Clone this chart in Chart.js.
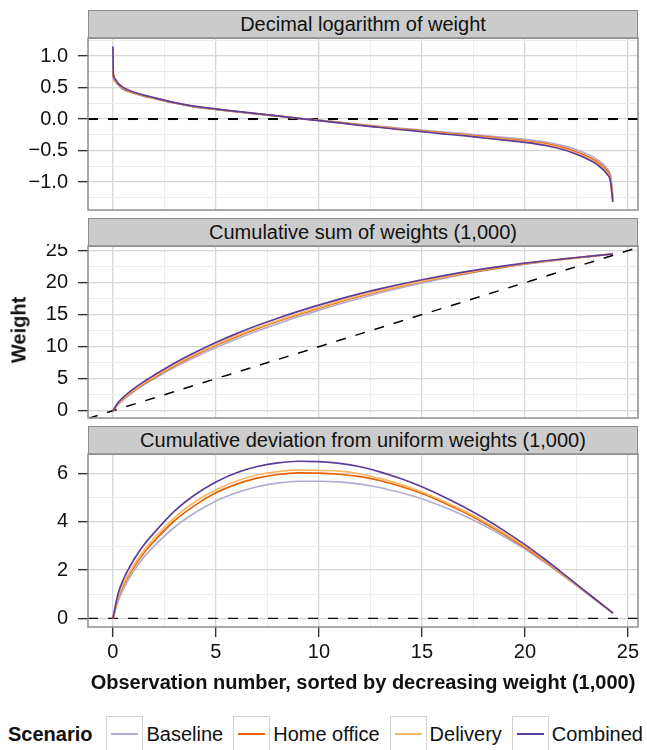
<!DOCTYPE html>
<html>
<head>
<meta charset="utf-8">
<script src="https://cdn.jsdelivr.net/npm/chart.js@4.4.1/dist/chart.umd.min.js"></script>
<style>
  html, body { margin: 0; padding: 0; background: #fff; overflow: hidden; }
  body { width: 647px; height: 750px; position: relative; font-family: "Liberation Sans", Arial, sans-serif; color: #111; }
  canvas { position: absolute; left: 0; }
  .strip { position: absolute; left: 88px; width: 550px; height: 29px; box-sizing: border-box; background: #cccccc; border: 1.5px solid #8c8c8c; font-size: 20px; line-height: 26px; text-align: center; }
  #ylab { position: absolute; left: 19px; top: 330px; transform: translate(-50%, -50%) rotate(-90deg); font-weight: bold; font-size: 20px; white-space: nowrap; }
  #legend { position: absolute; left: 8px; top: 716px; height: 37px; display: flex; align-items: center; font-size: 20px; white-space: nowrap; }
  #legend b { margin-right: 14px; }
  .key { width: 37px; height: 37px; box-sizing: border-box; border: 1.5px solid #d3d3d3; position: relative; margin-right: 3px; }
  .key i { position: absolute; left: 4px; right: 4px; top: 16px; height: 2px; }
  .lab { margin-right: 10px; }
</style>
</head>
<body>
<div class="strip" style="top:10px">Decimal logarithm of weight</div>
<div class="strip" style="top:218px">Cumulative sum of weights (1,000)</div>
<div class="strip" style="top:426px">Cumulative deviation from uniform weights (1,000)</div>
<canvas id="logChart" width="647" height="176" style="top:36px"></canvas>
<canvas id="cumChart" width="647" height="176" style="top:244px"></canvas>
<canvas id="devChart" width="647" height="248" style="top:452px"></canvas>
<div id="ylab">Weight</div>
<div id="legend"></div>
<script>
const scenarios = ["Baseline", "Home office", "Delivery", "Combined"];
const colors = ["#b2abd2", "#e66101", "#fdb863", "#5e3c99"];

// observation number (1,000) for the log panel
const obsLog = [0, 0.02, 0.1, 0.25, 0.5, 1, 1.5, 2, 3, 4, 5, 6, 7, 8, 9, 10, 11, 12, 13, 14, 15, 16, 17, 18, 19, 20, 21, 22, 22.5, 23, 23.5, 24, 24.15, 24.27];
const logBaseline = [0.74, 0.66, 0.6, 0.54, 0.47, 0.41, 0.36, 0.325, 0.25, 0.19, 0.15, 0.113, 0.08, 0.047, 0.012, -0.018, -0.05, -0.085, -0.117, -0.148, -0.176, -0.205, -0.233, -0.262, -0.292, -0.322, -0.365, -0.435, -0.49, -0.555, -0.64, -0.79, -0.89, -1.22];
const logHome = [0.78, 0.68, 0.61, 0.55, 0.48, 0.415, 0.368, 0.33, 0.254, 0.194, 0.154, 0.116, 0.082, 0.048, 0.011, -0.021, -0.054, -0.091, -0.125, -0.158, -0.187, -0.219, -0.248, -0.28, -0.313, -0.345, -0.39, -0.466, -0.523, -0.59, -0.677, -0.83, -0.93, -1.27];
const logDelivery = [0.82, 0.7, 0.625, 0.56, 0.49, 0.422, 0.373, 0.335, 0.257, 0.197, 0.157, 0.118, 0.083, 0.049, 0.01, -0.023, -0.057, -0.095, -0.13, -0.164, -0.193, -0.227, -0.256, -0.29, -0.324, -0.358, -0.405, -0.483, -0.542, -0.61, -0.698, -0.855, -0.955, -1.295];
const logCombined = [1.15, 0.72, 0.64, 0.57, 0.5, 0.43, 0.38, 0.34, 0.26, 0.2, 0.16, 0.12, 0.085, 0.05, 0.01, -0.025, -0.06, -0.1, -0.135, -0.17, -0.2, -0.235, -0.265, -0.3, -0.335, -0.37, -0.42, -0.5, -0.56, -0.63, -0.72, -0.88, -0.98, -1.32];

// observation number (1,000) for the cumulative panels
const obsCum = [0, 0.25, 0.5, 1, 1.5, 2, 3, 4, 5, 6, 7, 8, 9, 10, 11, 12, 13, 14, 15, 16, 17, 18, 19, 20, 21, 22, 23, 24, 24.27];
const cumBaseline = [0, 0.96, 1.7, 2.95, 4.04, 5.0, 6.79, 8.39, 9.87, 11.21, 12.46, 13.61, 14.69, 15.69, 16.66, 17.57, 18.42, 19.21, 19.96, 20.64, 21.28, 21.86, 22.39, 22.88, 23.3, 23.68, 24.04, 24.39, 24.49];
const cumHome = [0, 1.1, 1.86, 3.1, 4.21, 5.2, 7.06, 8.7, 10.21, 11.57, 12.82, 13.97, 15.04, 16.03, 16.98, 17.88, 18.71, 19.47, 20.18, 20.82, 21.42, 21.97, 22.48, 22.94, 23.35, 23.71, 24.06, 24.4, 24.49];
const cumDelivery = [0, 1.15, 1.92, 3.18, 4.31, 5.32, 7.19, 8.85, 10.34, 11.7, 12.95, 14.09, 15.15, 16.14, 17.11, 17.99, 18.8, 19.55, 20.24, 20.88, 21.48, 22.03, 22.53, 22.99, 23.38, 23.72, 24.06, 24.4, 24.49];
const cumCombined = [0, 1.27, 2.1, 3.41, 4.54, 5.55, 7.46, 9.14, 10.66, 12.04, 13.3, 14.45, 15.52, 16.5, 17.43, 18.29, 19.07, 19.79, 20.46, 21.07, 21.64, 22.16, 22.63, 23.06, 23.43, 23.76, 24.08, 24.4, 24.49];
const devBaseline = [0, 0.71, 1.2, 1.95, 2.54, 3.0, 3.79, 4.39, 4.87, 5.21, 5.46, 5.61, 5.69, 5.69, 5.66, 5.57, 5.42, 5.21, 4.96, 4.64, 4.28, 3.86, 3.39, 2.88, 2.3, 1.68, 1.04, 0.39, 0.22];
const devHome = [0, 0.85, 1.36, 2.1, 2.71, 3.2, 4.06, 4.7, 5.21, 5.57, 5.82, 5.97, 6.04, 6.03, 5.98, 5.88, 5.71, 5.47, 5.18, 4.82, 4.42, 3.97, 3.48, 2.94, 2.35, 1.71, 1.06, 0.4, 0.22];
const devDelivery = [0, 0.9, 1.42, 2.18, 2.81, 3.32, 4.19, 4.85, 5.34, 5.7, 5.95, 6.09, 6.15, 6.14, 6.11, 5.99, 5.8, 5.55, 5.24, 4.88, 4.48, 4.03, 3.53, 2.99, 2.38, 1.72, 1.06, 0.4, 0.22];
const devCombined = [0, 1.02, 1.6, 2.41, 3.04, 3.55, 4.46, 5.14, 5.66, 6.04, 6.3, 6.45, 6.52, 6.5, 6.43, 6.29, 6.07, 5.79, 5.46, 5.07, 4.64, 4.16, 3.63, 3.06, 2.43, 1.76, 1.08, 0.4, 0.22];

const xTicks = [0, 5, 10, 15, 20, 25];
const xMinor = [2.5, 7.5, 12.5, 17.5, 22.5];
const logTicks = [-1, -0.5, 0, 0.5, 1];
const logTickLabels = ["\u22121.0", "\u22120.5", "0.0", "0.5", "1.0"];
const logMinor = [-1.25, -0.75, -0.25, 0.25, 0.75, 1.25];
const cumTicks = [0, 5, 10, 15, 20, 25];
const cumMinor = [2.5, 7.5, 12.5, 17.5, 22.5];
const devTicks = [0, 2, 4, 6];
const devMinor = [1, 3, 5];

const X_MIN = -1.21, X_MAX = 25.49;
const FONT = { family: "'Liberation Sans', Arial, sans-serif", size: 20 };

const panelBorder = {
    id: "panelBorder",
    afterDatasetsDraw(chart) {
        const a = chart.chartArea, ctx = chart.ctx;
        ctx.save();
        ctx.strokeStyle = "#8c8c8c";
        ctx.lineWidth = 1.5;
        ctx.strokeRect(a.left, a.top, a.right - a.left, a.bottom - a.top);
        ctx.restore();
    },
};

function series(xs, ys, i) {
    return {
        label: scenarios[i],
        data: xs.map((x, k) => ({ x: x, y: ys[k] })),
        borderColor: colors[i],
        borderWidth: 1.7,
        pointRadius: 0,
        fill: false,
        cubicInterpolationMode: "monotone",
        order: 4 - i,
    };
}

function refLine(p0, p1, width) {
    return {
        data: [p0, p1],
        borderColor: "#000",
        borderWidth: width,
        borderDash: [10, 10],
        pointRadius: 0,
        fill: false,
        order: 10,
    };
}

function gridOpts(majors) {
    return {
        color: (c) => majors.includes(c.tick.value) ? "#d6d6d6" : "#ececec",
        lineWidth: (c) => majors.includes(c.tick.value) ? 1.3 : 1,
        tickLength: 10,
        tickColor: (c) => majors.includes(c.tick.value) ? "#333" : "rgba(0,0,0,0)",
        tickWidth: 1.4,
    };
}

function makePanel(id, datasets, yMin, yMax, yMajor, yMinorT, yLabels, bottom) {
    const yAll = yMajor.concat(yMinorT);
    const xAll = xTicks.concat(xMinor);
    const options = {
        responsive: false,
        animation: false,
        events: [],
        devicePixelRatio: 1,
        layout: { padding: { left: 0, right: 9, top: 2, bottom: bottom ? 0 : 2 } },
        scales: {
            x: {
                type: "linear",
                min: X_MIN,
                max: X_MAX,
                afterBuildTicks: (axis) => { axis.ticks = xAll.map((v) => ({ value: v })); },
                afterFit: (axis) => {
                    axis.height = bottom ? 73 : 0;
                    axis.paddingLeft = 0;
                    axis.paddingRight = 0;
                },
                ticks: {
                    display: bottom,
                    autoSkip: false,
                    maxRotation: 0,
                    padding: 3,
                    color: "#111",
                    font: FONT,
                    callback: (v) => xTicks.includes(v) ? String(v) : "",
                },
                grid: Object.assign(gridOpts(xTicks), { drawTicks: bottom }),
                border: { display: false },
                title: {
                    display: bottom,
                    text: "Observation number, sorted by decreasing weight (1,000)",
                    color: "#111",
                    font: Object.assign({}, FONT, { weight: "bold" }),
                    padding: { top: 0, bottom: 5 },
                },
            },
            y: {
                type: "linear",
                min: yMin,
                max: yMax,
                afterBuildTicks: (axis) => { axis.ticks = yAll.map((v) => ({ value: v })); },
                afterFit: (axis) => {
                    axis.width = 88;
                    axis.paddingTop = 0;
                    axis.paddingBottom = 0;
                },
                ticks: {
                    autoSkip: false,
                    padding: 10,
                    color: "#111",
                    font: FONT,
                    callback: (v) => {
                        const k = yMajor.indexOf(v);
                        return k >= 0 ? yLabels[k] : "";
                    },
                },
                grid: gridOpts(yMajor),
                border: { display: false },
            },
        },
        plugins: { legend: { display: false }, tooltip: { enabled: false } },
    };
    return new Chart(document.getElementById(id), {
        type: "line",
        data: { datasets },
        options,
        plugins: [panelBorder],
    });
}

function generateCharts() {
    const logSets = [logBaseline, logHome, logDelivery, logCombined].map((ys, i) => series(obsLog, ys, i));
    logSets.push(refLine({ x: X_MIN, y: 0 }, { x: X_MAX, y: 0 }, 2));
    makePanel("logChart", logSets, -1.444, 1.286, logTicks, logMinor, logTickLabels, false);

    const cumSets = [cumBaseline, cumHome, cumDelivery, cumCombined].map((ys, i) => series(obsCum, ys, i));
    cumSets.push(refLine({ x: X_MIN, y: X_MIN }, { x: X_MAX, y: X_MAX }, 1.5));
    makePanel("cumChart", cumSets, -1.14, 25.73, cumTicks, cumMinor, cumTicks.map(String), false);

    const devSets = [devBaseline, devHome, devDelivery, devCombined].map((ys, i) => series(obsCum, ys, i));
    devSets.push(refLine({ x: X_MIN, y: 0 }, { x: X_MAX, y: 0 }, 1.2));
    makePanel("devChart", devSets, -0.36, 6.82, devTicks, devMinor, devTicks.map(String), true);
}

function buildLegend() {
    const box = document.getElementById("legend");
    let html = "<b>Scenario</b>";
    scenarios.forEach((s, i) => {
        html += `<span class="key"><i style="background:${colors[i]}"></i></span><span class="lab">${s}</span>`;
    });
    box.innerHTML = html;
}

generateCharts();
buildLegend();
</script>
</body>
</html>
